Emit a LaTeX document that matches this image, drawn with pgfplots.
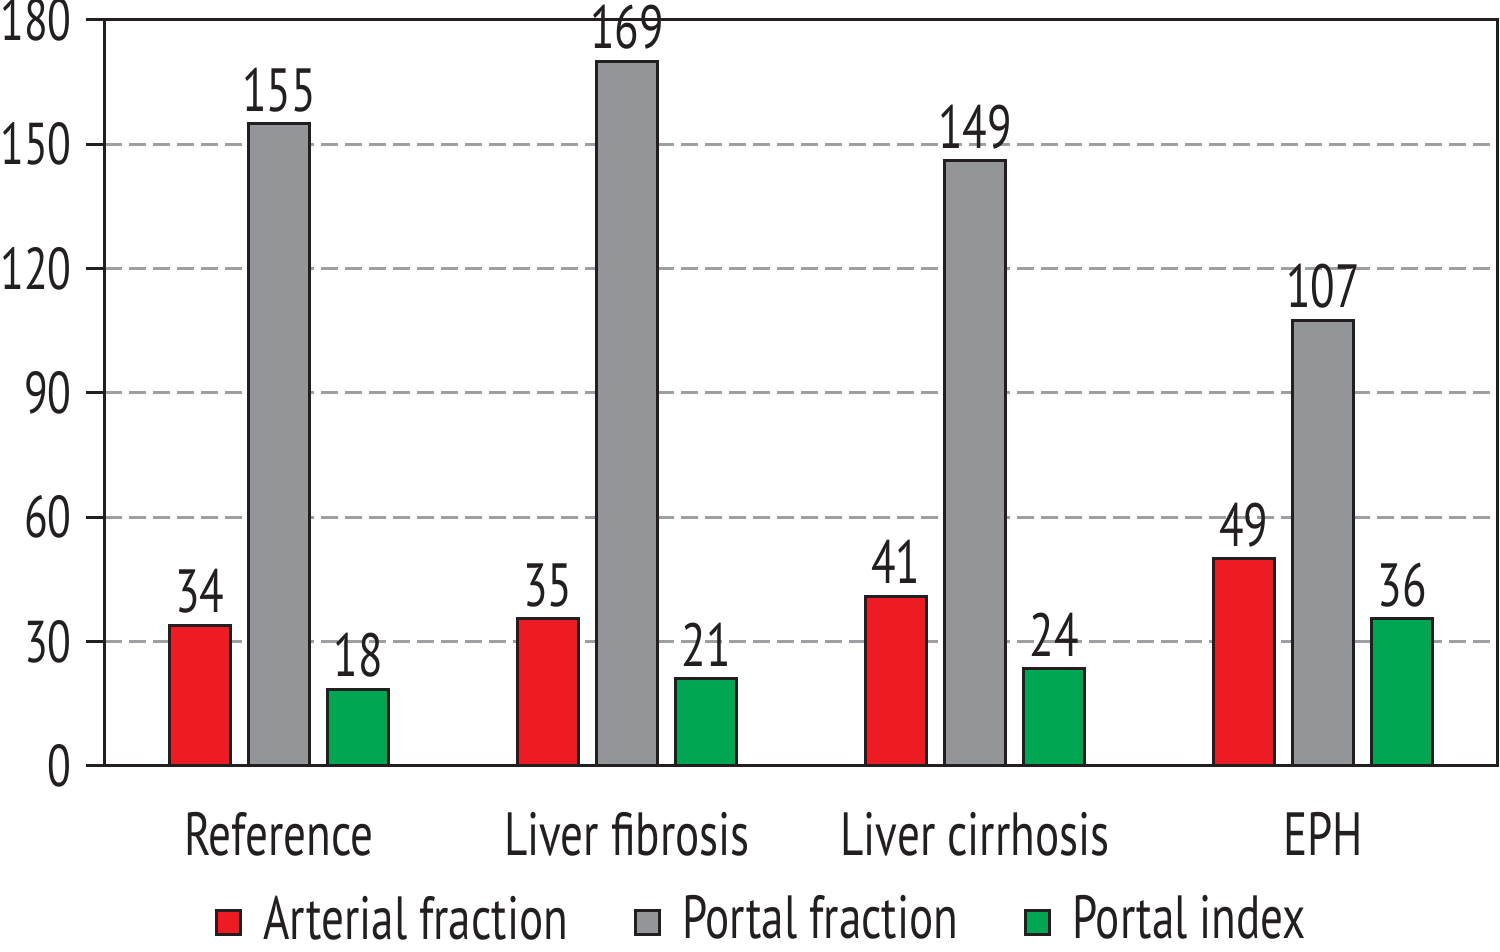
\documentclass[border=0pt]{standalone}
\usepackage{fontspec}
\setmainfont{PT Sans}[FakeStretch=0.74]
\usepackage{pgfplots}
\pgfplotsset{compat=1.18}
\usepackage{pgfplotstable}
\definecolor{cred}{HTML}{ED1C24}
\definecolor{cgray}{HTML}{939598}
\definecolor{cgreen}{HTML}{00A651}
\definecolor{cdark}{HTML}{231F20}
\definecolor{cgrid}{HTML}{9D9FA2}
\pgfplotstableread{
x y lab
0 34 34
1 35.5 35
2 41 41
3 50 49
}\arterial
\pgfplotstableread{
x y lab
0 155 155
1 170 169
2 146 149
3 107.5 107
}\portal
\pgfplotstableread{
x y lab
0 18.5 18
1 21 21
2 23.5 24
3 35.5 36
}\pindex
\begin{document}
\begin{tikzpicture}[font=\fontsize{30.5}{36}\selectfont]
\begin{axis}[
 scale only axis, width=696pt, height=373pt,
 xmin=-0.5, xmax=3.5, ymin=0, ymax=180,
 ybar, bar width=0.176,
 xtick={0,1,2,3}, xticklabels={Reference, Liver fibrosis, Liver cirrhosis, EPH},
 ytick={0,30,...,180},
 ytick pos=left, tick align=outside,
 major tick length=9.5pt,
 x tick style={draw=none},
 y tick style={line width=1.5pt, color=cdark},
 axis line style={line width=1.5pt, color=cdark},
 ymajorgrids, grid style={dash pattern=on 8.5pt off 3.5pt, line width=1.5pt, color=cgrid},
 /pgf/number format/assume math mode=true,
 every tick label/.append style={text=cdark},
 yticklabel style={anchor=east, inner sep=0pt, xshift=-7pt, font=\fontsize{29.5}{34}\selectfont},
 xticklabel style={anchor=base, inner sep=0pt, yshift=-35.5pt},
 nodes near coords, point meta=explicit symbolic,
 nodes near coords style={anchor=base, inner sep=0pt, yshift=6.25pt, text=cdark},
 legend columns=3,
 legend style={draw=none, fill=none, at={(0.471,-0.2325)}, anchor=south, inner sep=0pt,
   nodes={inner sep=0pt, text depth=0pt, text=cdark}, cells={anchor=west},
   /tikz/every odd column/.append style={column sep=10.5pt},
   /tikz/every even column/.append style={column sep=33pt}},
 sq/.style={legend image code/.code={\draw[line width=1.5pt,##1] (0pt,-8.5pt) rectangle (12pt,3.5pt);}},
]
\addplot[fill=cred, draw=cdark, line width=1.5pt, bar shift=-0.228, sq] table[x=x,y=y,meta=lab] {\arterial};
\addplot[fill=cgray, draw=cdark, line width=1.5pt, bar shift=0, sq] table[x=x,y=y,meta=lab] {\portal};
\addplot[fill=cgreen, draw=cdark, line width=1.5pt, bar shift=0.228, sq] table[x=x,y=y,meta=lab] {\pindex};
\legend{Arterial fraction, Portal fraction, Portal index}
\end{axis}
\pgfresetboundingbox
\path[use as bounding box] (-52.5pt,-93pt) rectangle (697.5pt,383pt);
\end{tikzpicture}
\end{document}
